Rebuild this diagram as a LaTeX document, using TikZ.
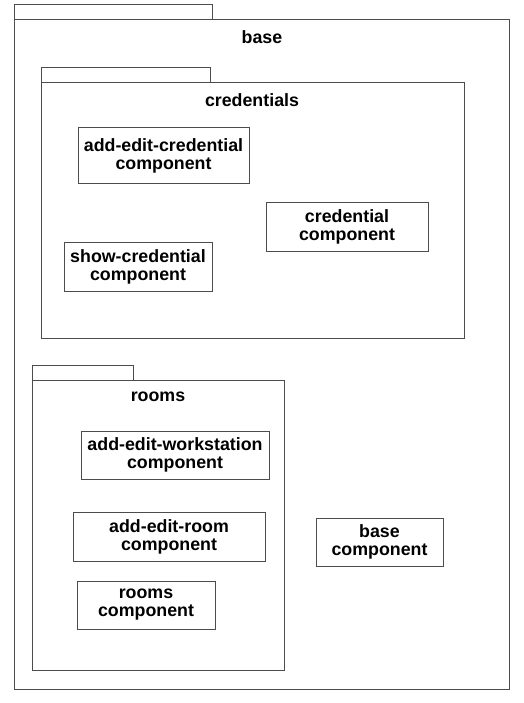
\documentclass[tikz,border=0pt]{standalone}
\usepackage{fontspec}
\setmainfont{Liberation Sans}
\usetikzlibrary{positioning}

\tikzset{
  pkg/.style={draw=black!70,line width=1pt},
  pkglabel/.style={font=\fontsize{17.8}{18}\selectfont\bfseries,inner sep=0pt},
  comp/.style={draw=black!70,line width=1pt,fill=white,align=center,inner sep=0pt,
    font=\fontsize{17.8}{18}\selectfont\bfseries},
}

\begin{document}
\begin{tikzpicture}[x=1pt,y=-1pt]
\useasboundingbox (0,0) rectangle (523,703);
% package base
\draw[pkg] (14,20) rectangle (212,5);
\draw[pkg] (14,20) rectangle (509,689);
\node[pkglabel] (baselbl) at (262,37) {base};
% package credentials
\draw[pkg] (41,83) rectangle (210,68);
\draw[pkg] (41,83) rectangle (464,338);
\node[pkglabel] (credlbl) at (252,100) {credentials};
\node[comp,minimum width=171pt,minimum height=56pt] (addcred) at (163.5,156) {add-edit-credential\\component};
\node[comp,minimum width=162pt,minimum height=48pt] (cred) at (347,227) {credential\\component};
\node[comp,minimum width=148pt,minimum height=49pt] (showcred) at (138,266.5) {show-credential\\component};
% package rooms
\draw[pkg] (32,380) rectangle (133,365);
\draw[pkg] (32,380) rectangle (284,670);
\node[pkglabel] (roomslbl) at (158,397) {rooms};
\node[comp,minimum width=188pt,minimum height=48pt] (addws) at (175,455) {add-edit-workstation\\component};
\node[comp,minimum width=192pt,minimum height=49pt] (addroom) at (169,536.5) {add-edit-room\\component};
\node[comp,minimum width=138pt,minimum height=48pt] (roomscomp) at (146,605) {rooms\\component};
% base component
\node[comp,minimum width=127pt,minimum height=48pt] (basecomp) at (379.5,542) {base\\component};
\end{tikzpicture}
\end{document}
